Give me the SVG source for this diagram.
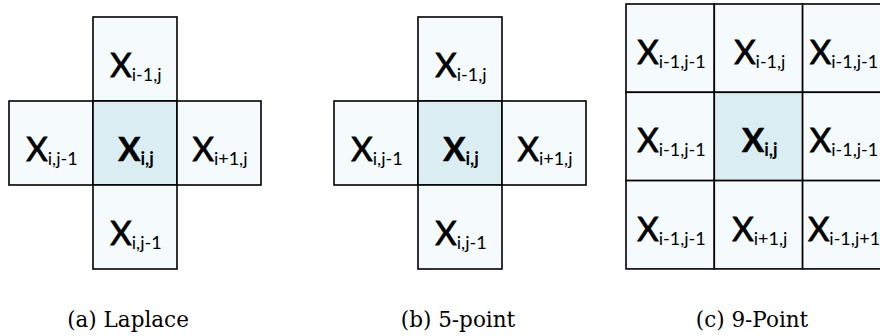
<svg xmlns="http://www.w3.org/2000/svg" width="880" height="336" viewBox="0 0 880 336">
<style>
.c{fill:#f5fafc;stroke:#000;stroke-width:1.6}
.m{fill:#daedf3;stroke:#000;stroke-width:1.6}
.t{font-family:Lato,"Open Sans","Liberation Sans",sans-serif;font-size:33px;fill:#000;stroke:#000;stroke-width:0.8;text-anchor:middle}
.s{font-size:18px;stroke-width:0}
.b{font-weight:bold;stroke-width:0.6}
.cap{font-family:"DejaVu Serif","Liberation Serif",serif;font-size:21.5px;fill:#000;text-anchor:middle}
</style>
<rect width="880" height="336" fill="#fff"/>
<g id="laplace">
<g id="a-top"><rect class="c" x="93" y="17" width="84" height="84"/><text class="t" x="136" y="77">X<tspan class="s" dy="4">i-1,j</tspan></text></g>
<g id="a-left"><rect class="c" x="9" y="101" width="84" height="84"/><text class="t" x="52" y="161">X<tspan class="s" dy="4">i,j-1</tspan></text></g>
<g id="a-center"><rect class="m" x="93" y="101" width="84" height="84"/><text class="t b" x="136" y="161">X<tspan class="s" dy="4">i,j</tspan></text></g>
<g id="a-right"><rect class="c" x="177" y="101" width="84" height="84"/><text class="t" x="220" y="161">X<tspan class="s" dy="4">i+1,j</tspan></text></g>
<g id="a-bottom"><rect class="c" x="93" y="185" width="84" height="84"/><text class="t" x="136" y="245">X<tspan class="s" dy="4">i,j-1</tspan></text></g>
<text id="a-caption" class="cap" x="128" y="327">(a) Laplace</text>
</g>
<g id="five-point">
<g id="b-top"><rect class="c" x="418" y="17" width="84" height="84"/><text class="t" x="461" y="77">X<tspan class="s" dy="4">i-1,j</tspan></text></g>
<g id="b-left"><rect class="c" x="334" y="101" width="84" height="84"/><text class="t" x="377" y="161">X<tspan class="s" dy="4">i,j-1</tspan></text></g>
<g id="b-center"><rect class="m" x="418" y="101" width="84" height="84"/><text class="t b" x="461" y="161">X<tspan class="s" dy="4">i,j</tspan></text></g>
<g id="b-right"><rect class="c" x="502" y="101" width="84" height="84"/><text class="t" x="545" y="161">X<tspan class="s" dy="4">i+1,j</tspan></text></g>
<g id="b-bottom"><rect class="c" x="418" y="185" width="84" height="84"/><text class="t" x="461" y="245">X<tspan class="s" dy="4">i,j-1</tspan></text></g>
<text id="b-caption" class="cap" x="458" y="327">(b) 5-point</text>
</g>
<g id="nine-point">
<g id="c-11"><rect class="c" x="626" y="4" width="88.3" height="88.3"/><text class="t" x="671.5" y="64">X<tspan class="s" dy="4">i-1,j-1</tspan></text></g>
<g id="c-12"><rect class="c" x="714.3" y="4" width="88.3" height="88.3"/><text class="t" x="759.8" y="64">X<tspan class="s" dy="4">i-1,j</tspan></text></g>
<g id="c-13"><rect class="c" x="802.6" y="4" width="88.3" height="88.3"/><text class="t" x="844" y="64">X<tspan class="s" dy="4">i-1,j-1</tspan></text></g>
<g id="c-21"><rect class="c" x="626" y="92.3" width="88.3" height="88.3"/><text class="t" x="671.5" y="152.3">X<tspan class="s" dy="4">i-1,j-1</tspan></text></g>
<g id="c-22"><rect class="m" x="714.3" y="92.3" width="88.3" height="88.3"/><text class="t b" x="759.8" y="152.3">X<tspan class="s" dy="4">i,j</tspan></text></g>
<g id="c-23"><rect class="c" x="802.6" y="92.3" width="88.3" height="88.3"/><text class="t" x="844" y="152.3">X<tspan class="s" dy="4">i-1,j-1</tspan></text></g>
<g id="c-31"><rect class="c" x="626" y="180.6" width="88.3" height="88.3"/><text class="t" x="671.5" y="240.6">X<tspan class="s" dy="4">i-1,j-1</tspan></text></g>
<g id="c-32"><rect class="c" x="714.3" y="180.6" width="88.3" height="88.3"/><text class="t" x="759.8" y="240.6">X<tspan class="s" dy="4">i+1,j</tspan></text></g>
<g id="c-33"><rect class="c" x="802.6" y="180.6" width="88.3" height="88.3"/><text class="t" x="844" y="240.6">X<tspan class="s" dy="4">i-1,j+1</tspan></text></g>
<text id="c-caption" class="cap" x="752" y="327">(c) 9-Point</text>
</g>
</svg>
